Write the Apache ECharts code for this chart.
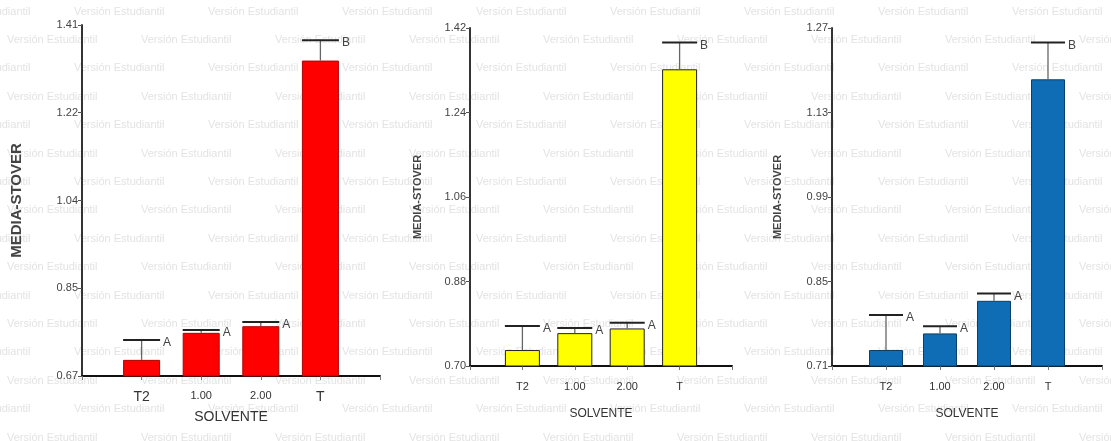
<!DOCTYPE html>
<html>
<head>
<meta charset="utf-8">
<script src="https://cdn.jsdelivr.net/npm/echarts@6/dist/echarts.min.js"></script>
<style>html,body{margin:0;padding:0;background:#fff;}#c{width:1111px;height:441px;}</style>
</head>
<body>
<div id="c"></div>
<script>
// ---- data ----
var categories = ['T2', '1.00', '2.00', 'T'];
var letters = ['A', 'A', 'A', 'B'];

var redMeans = [0.704, 0.761, 0.775, 1.335];
var redUpper = [0.746, 0.767, 0.784, 1.378];
var redTicks = [0.67, 0.855, 1.04, 1.225, 1.41];
var redTickLabels = ['0.67', '0.85', '1.04', '1.22', '1.41'];

var yellowMeans = [0.734, 0.770, 0.780, 1.332];
var yellowUpper = [0.785, 0.781, 0.792, 1.389];
var yellowTicks = [0.70, 0.88, 1.06, 1.24, 1.42];
var yellowTickLabels = ['0.70', '0.88', '1.06', '1.24', '1.42'];

var blueMeans = [0.7365, 0.764, 0.818, 1.185];
var blueUpper = [0.7945, 0.776, 0.830, 1.246];
var blueTicks = [0.71, 0.85, 0.99, 1.13, 1.27];
var blueTickLabels = ['0.71', '0.85', '0.99', '1.13', '1.27'];

var yTitle = 'MEDIA-STOVER';
var xTitle = 'SOLVENTE';
var watermark = 'Versión Estudiantil';

// ---- build ----
var FONT = 'Liberation Sans, Arial, sans-serif';
var axisCats = [''].concat(categories).concat(['']);

var panels = [
  {means: redMeans, upper: redUpper, ticks: redTicks, labels: redTickLabels, color: '#FF0000', border: '#b00000',
   grid: {left: 82, top: 25, width: 298, height: 351}, barW: 37, yNameGap: 58, yNameSize: 15, xNameGap: 34, xNameSize: 14, catBig: true, labelMargin: 14},
  {means: yellowMeans, upper: yellowUpper, ticks: yellowTicks, labels: yellowTickLabels, color: '#FFFF00', border: '#222',
   grid: {left: 470, top: 28, width: 262, height: 338}, barW: 35, yNameGap: 47, yNameSize: 11, xNameGap: 42, xNameSize: 12, catBig: false, labelMargin: 15},
  {means: blueMeans, upper: blueUpper, ticks: blueTicks, labels: blueTickLabels, color: '#0F6DB5', border: '#0a3f6a',
   grid: {left: 832, top: 28, width: 270, height: 338}, barW: 34, yNameGap: 49, yNameSize: 11, xNameGap: 42, xNameSize: 12, catBig: false, labelMargin: 15}
];

var grids = [], xAxes = [], yAxes = [], series = [];
panels.forEach(function (p, i) {
  grids.push(p.grid);
  xAxes.push({
    type: 'category', gridIndex: i, data: axisCats, boundaryGap: false,
    name: xTitle, nameLocation: 'middle', nameGap: p.xNameGap,
    nameTextStyle: {fontFamily: FONT, fontSize: p.xNameSize, color: '#333'},
    axisLine: {lineStyle: {color: '#111', width: 2}},
    axisTick: {show: true, length: 4, lineStyle: {color: '#777'}, alignWithLabel: true},
    axisLabel: {
      interval: 0, margin: p.labelMargin, fontFamily: FONT, color: '#333',
      formatter: function (v) {
        if (!v) return '';
        if (p.catBig && (v === 'T2' || v === 'T')) return '{b|' + v + '}';
        return '{s|' + v + '}';
      },
      rich: {b: {fontSize: 14, fontFamily: FONT, color: '#333'}, s: {fontSize: 11, fontFamily: FONT, color: '#333'}}
    },
    splitLine: {show: false}
  });
  var lbls = p.labels, tks = p.ticks;
  yAxes.push({
    type: 'value', gridIndex: i, min: tks[0], max: tks[tks.length - 1],
    name: yTitle, nameLocation: 'middle', nameGap: p.yNameGap,
    nameTextStyle: {fontFamily: FONT, fontSize: p.yNameSize, fontWeight: 'bold', color: '#444'},
    axisLine: {show: true, lineStyle: {color: '#333', width: 2}},
    axisTick: {show: true, length: 4, lineStyle: {color: '#555'}, customValues: tks},
    axisLabel: {
      fontFamily: FONT, fontSize: 11, color: '#444', margin: 4, customValues: tks,
      formatter: function (v) {
        var best = 0;
        for (var k = 1; k < tks.length; k++) if (Math.abs(tks[k] - v) < Math.abs(tks[best] - v)) best = k;
        return lbls[best];
      }
    },
    splitLine: {show: false}
  });
  series.push({
    type: 'bar', xAxisIndex: i, yAxisIndex: i, barWidth: p.barW,
    itemStyle: {color: p.color, borderColor: p.border, borderWidth: 1},
    data: p.means.map(function (m, k) { return [k + 1, m]; }),
    z: 2
  });
  series.push({
    type: 'custom', xAxisIndex: i, yAxisIndex: i, z: 5,
    data: p.means.map(function (m, k) { return [k + 1, m, p.upper[k]]; }),
    renderItem: function (params, api) {
      var x = api.value(0), m = api.value(1), u = api.value(2);
      var a = api.coord([x, m]), b = api.coord([x, u]);
      var hw = p.barW / 2;
      return {
        type: 'group',
        children: [
          {type: 'line', shape: {x1: a[0], y1: a[1], x2: b[0], y2: b[1]}, style: {stroke: '#666', lineWidth: 1.3}},
          {type: 'line', shape: {x1: b[0] - hw, y1: b[1], x2: b[0] + hw, y2: b[1]}, style: {stroke: '#222', lineWidth: 2}},
          {type: 'text', style: {text: letters[params.dataIndex], x: b[0] + hw + 3, y: b[1] + 3,
            align: 'left', verticalAlign: 'middle', fill: '#444', font: '12px ' + FONT}}
        ]
      };
    }
  });
});

// faint student-version watermark rows
var wm = [];
for (var r = 0; r < 16; r++) {
  for (var c = 0; c < 10; c++) {
    wm.push({
      type: 'text', z: -10, silent: true,
      x: -60 + c * 134 + (r % 2) * 67, y: 6 + r * 28.4,
      style: {text: watermark, fill: '#e3e3e3', font: '11px ' + FONT}
    });
  }
}

var chart = echarts.init(document.getElementById('c'));
chart.setOption({
  animation: false,
  backgroundColor: '#fff',
  graphic: {elements: wm},
  grid: grids,
  xAxis: xAxes,
  yAxis: yAxes,
  series: series
});
</script>
</body>
</html>
